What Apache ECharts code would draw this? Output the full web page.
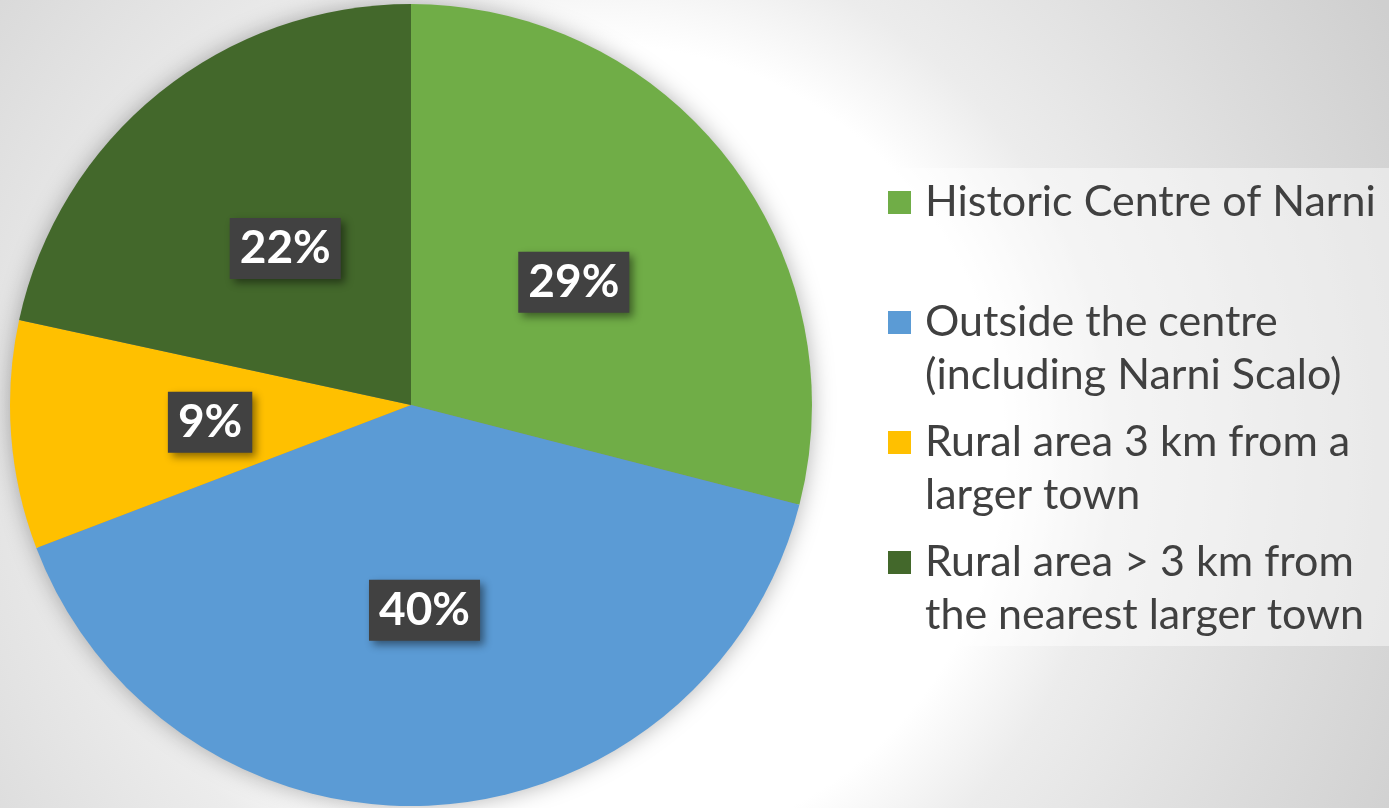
<!DOCTYPE html>
<html>
<head>
<meta charset="utf-8">
<style>
  html, body { margin: 0; padding: 0; }
  #chart { width: 1389px; height: 808px; }
</style>
<script src="https://cdn.jsdelivr.net/npm/echarts@6/dist/echarts.min.js"></script>
</head>
<body>
<div id="chart"></div>
<script>
// categories (legend text keeps the original line breaks)
const categories = [
  'Historic Centre of Narni',
  'Outside the centre\n(including Narni Scalo)',
  'Rural area 3 km from a\nlarger town',
  'Rural area > 3 km from\nthe nearest larger town'
];
// shares (labels show the rounded percent)
const shares = [29, 40.2, 9.2, 21.6];
const colors = ['#70AD47', '#5B9BD5', '#FFC000', '#43682B'];

const font = 'Lato, "Noto Sans", sans-serif';

// rich styles for the legend: a coloured square per item
const legendRich = {
  t: { fontSize: 43, lineHeight: 53, color: '#404040', fontFamily: font, padding: [0, 0, 0, 14] },
  ind: { width: 23, height: 23, lineHeight: 53 }
};
colors.forEach((c, i) => {
  legendRich['m' + i] = { width: 23, height: 23, backgroundColor: c, lineHeight: 53 };
});

const chart = echarts.init(document.getElementById('chart'), null, { renderer: 'canvas' });

const option = {
  backgroundColor: {
    type: 'radial', x: 600, y: 450, r: 900, global: true,
    colorStops: [
      { offset: 0, color: '#ffffff' },
      { offset: 0.45, color: '#ffffff' },
      { offset: 0.57, color: '#ececec' },
      { offset: 0.8, color: '#dcdcdc' },
      { offset: 1, color: '#cfcfcf' }
    ]
  },
  animation: false,
  legend: {
    orient: 'vertical',
    left: 851,
    top: 168,
    padding: [13, 40, 9, 32],
    itemGap: 24,
    itemWidth: 0,
    itemHeight: 0,
    selectedMode: false,
    backgroundColor: 'rgba(255,255,255,0.45)',
    data: categories,
    formatter: name => {
      const i = categories.indexOf(name);
      const lines = name.split('\n');
      return `{m${i}|}{t|${lines[0]}}\n{ind|}{t|${lines[1] || ''}}`;
    },
    textStyle: { rich: legendRich }
  },
  series: [
    {
      // soft shadow under the whole pie
      type: 'pie',
      silent: true,
      center: [411, 405],
      radius: 399,
      z: 1,
      label: { show: false },
      labelLine: { show: false },
      itemStyle: { color: '#888', shadowBlur: 24, shadowColor: 'rgba(0,0,0,0.35)' },
      data: [{ value: 1, name: '' }]
    },
    {
      type: 'pie',
      silent: true,
      center: [411, 405],
      radius: 401,
      startAngle: 90,
      clockwise: true,
      z: 2,
      avoidLabelOverlap: false,
      itemStyle: { borderWidth: 0 },
      labelLine: { show: false },
      label: {
        show: true,
        position: 'inside',
        formatter: p => Math.round(p.percent) + '%',
        color: '#fff',
        fontFamily: font,
        fontWeight: 'bold',
        fontSize: 46,
        lineHeight: 47,
        backgroundColor: '#414141',
        padding: [7, 10, 7, 10],
        offset: [2, 2],
        shadowColor: 'rgba(0,0,0,0.45)',
        shadowBlur: 8,
        shadowOffsetX: 4,
        shadowOffsetY: 4
      },
      data: categories.map((name, i) => ({
        name: name,
        value: shares[i],
        itemStyle: { color: colors[i] }
      }))
    }
  ]
};

chart.setOption(option);
</script>
</body>
</html>
